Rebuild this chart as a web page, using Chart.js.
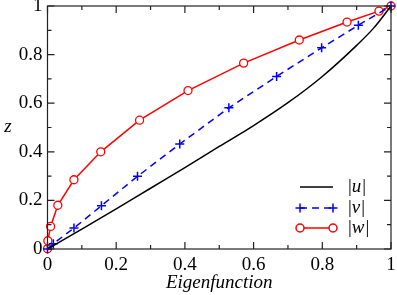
<!DOCTYPE html>
<html>
<head>
<meta charset="utf-8">
<script src="https://cdn.jsdelivr.net/npm/chart.js@4.4.0/dist/chart.umd.min.js"></script>
<style>
  html, body { margin: 0; padding: 0; background: #fff; }
  #wrap { width: 397px; height: 295px; }
</style>
</head>
<body>
<div id="wrap"><canvas id="chart"></canvas></div>
<script>
// |u| curve
var uX = [0, 0.1, 0.2, 0.3, 0.4, 0.5, 0.6, 0.7, 0.8, 0.9, 0.95, 1];
var uY = [0, 0.082, 0.165, 0.25, 0.335, 0.422, 0.508, 0.602, 0.71, 0.838, 0.91, 1];
// |v| points
var vX = [0, 0.017, 0.077, 0.157, 0.262, 0.385, 0.528, 0.667, 0.798, 0.905, 1];
var vY = [0, 0.022, 0.086, 0.178, 0.299, 0.432, 0.581, 0.71, 0.828, 0.921, 1];
// |w| points
var wX = [0, 0.001, 0.009, 0.03, 0.077, 0.155, 0.268, 0.409, 0.571, 0.733, 0.872, 0.965, 1];
var wY = [0.001, 0.034, 0.093, 0.18, 0.285, 0.40, 0.53, 0.652, 0.765, 0.86, 0.934, 0.979, 1];

var majorTicks = [0, 0.2, 0.4, 0.6, 0.8, 1];
var minorTicks = [0.1, 0.3, 0.5, 0.7, 0.9];

function pts(xs, ys) {
    return xs.map(function (x, i) { return { x: x, y: ys[i] }; });
}

function fmt(v) {
    return String(Math.round(v * 10) / 10);
}

var FONT = "'Liberation Serif', 'DejaVu Serif', serif";
var FS = 19;

var framePlugin = {
    id: 'frame',
    afterDraw: function (chart) {
        var ctx = chart.ctx, a = chart.chartArea;
        var xs = chart.scales.x, ys = chart.scales.y;
        ctx.save();
        ctx.strokeStyle = '#222';
        ctx.lineWidth = 1.2;
        ctx.strokeRect(a.left, a.top, a.right - a.left, a.bottom - a.top);
        function tick(v, len) {
            var px = xs.getPixelForValue(v), py = ys.getPixelForValue(v);
            ctx.beginPath();
            ctx.moveTo(px, a.bottom); ctx.lineTo(px, a.bottom - len);
            ctx.moveTo(px, a.top); ctx.lineTo(px, a.top + len);
            ctx.moveTo(a.left, py); ctx.lineTo(a.left + len, py);
            ctx.moveTo(a.right, py); ctx.lineTo(a.right - len, py);
            ctx.stroke();
        }
        majorTicks.forEach(function (v) { tick(v, 7); });
        minorTicks.forEach(function (v) { tick(v, 4); });

        // y axis title, upright
        ctx.fillStyle = '#000';
        ctx.textAlign = 'center';
        ctx.textBaseline = 'middle';
        ctx.font = 'italic ' + FS + 'px ' + FONT;
        ctx.fillText('z', 8, 127);

        // legend
        var lx0 = 300, lx1 = 333, tx = 348;
        var rows = [
            { y: 187, name: 'u', color: '#000', dash: [], marker: null },
            { y: 208, name: 'v', color: '#0000ff', dash: [7, 5], marker: 'cross' },
            { y: 228, name: 'w', color: '#ff0000', dash: [], marker: 'circle' }
        ];
        rows.forEach(function (r) {
            ctx.strokeStyle = r.color;
            ctx.lineWidth = 1.5;
            ctx.setLineDash(r.dash);
            ctx.beginPath();
            ctx.moveTo(lx0, r.y); ctx.lineTo(lx1, r.y);
            ctx.stroke();
            ctx.setLineDash([]);
            [lx0, lx1].forEach(function (mx) {
                if (r.marker === 'cross') {
                    ctx.beginPath();
                    ctx.moveTo(mx - 4.5, r.y); ctx.lineTo(mx + 4.5, r.y);
                    ctx.moveTo(mx, r.y - 4.5); ctx.lineTo(mx, r.y + 4.5);
                    ctx.stroke();
                } else if (r.marker === 'circle') {
                    ctx.beginPath();
                    ctx.arc(mx, r.y, 4, 0, Math.PI * 2);
                    ctx.fillStyle = '#fff';
                    ctx.fill();
                    ctx.stroke();
                }
            });
            ctx.fillStyle = '#000';
            ctx.textBaseline = 'middle';
            ctx.textAlign = 'left';
            var x = tx;
            ctx.font = FS + 'px ' + FONT;
            ctx.fillText('|', x, r.y);
            x += ctx.measureText('|').width;
            ctx.font = 'italic ' + FS + 'px ' + FONT;
            ctx.fillText(r.name, x, r.y);
            x += ctx.measureText(r.name).width + 1;
            ctx.font = FS + 'px ' + FONT;
            ctx.fillText('|', x, r.y);
        });
        ctx.restore();
    }
};

new Chart(document.getElementById('chart'), {
    type: 'scatter',
    data: {
        datasets: [
            {
                label: '|u|', data: pts(uX, uY), showLine: true,
                borderColor: '#000', borderWidth: 1.5, pointRadius: 0,
                cubicInterpolationMode: 'monotone', clip: false
            },
            {
                label: '|v|', data: pts(vX, vY), showLine: true,
                borderColor: '#0000ff', borderWidth: 1.5, borderDash: [7, 5],
                pointStyle: 'cross', pointRadius: 4.5, pointBorderWidth: 1.5,
                pointBorderColor: '#0000ff', clip: false
            },
            {
                label: '|w|', data: pts(wX, wY), showLine: true,
                borderColor: '#ff0000', borderWidth: 1.5,
                pointStyle: 'circle', pointRadius: 4, pointBorderWidth: 1.3,
                pointBorderColor: '#ff0000', pointBackgroundColor: '#fff', clip: false
            }
        ]
    },
    options: {
        responsive: true,
        maintainAspectRatio: false,
        animation: false,
        layout: { padding: { top: 6, right: 5, left: 0, bottom: 0 } },
        plugins: { legend: { display: false }, tooltip: { enabled: false } },
        scales: {
            x: {
                type: 'linear', min: 0, max: 1,
                grid: { display: false, drawTicks: false },
                border: { display: false },
                ticks: { stepSize: 0.2, padding: 5, color: '#000', maxRotation: 0, callback: fmt, font: { family: FONT, size: FS } },
                title: { display: true, text: 'Eigenfunction', color: '#000', padding: { top: 0, bottom: 1 }, font: { family: FONT, size: FS, style: 'italic' } },
                afterFit: function (s) { s.height = 46; s.paddingLeft = 0; s.paddingRight = 0; }
            },
            y: {
                type: 'linear', min: 0, max: 1,
                grid: { display: false, drawTicks: false },
                border: { display: false },
                ticks: { stepSize: 0.2, padding: 5, color: '#000', callback: fmt, font: { family: FONT, size: FS } },
                title: { display: false },
                afterFit: function (s) { s.width = 47.5; s.paddingTop = 0; s.paddingBottom = 0; }
            }
        }
    },
    plugins: [framePlugin]
});
</script>
</body>
</html>
